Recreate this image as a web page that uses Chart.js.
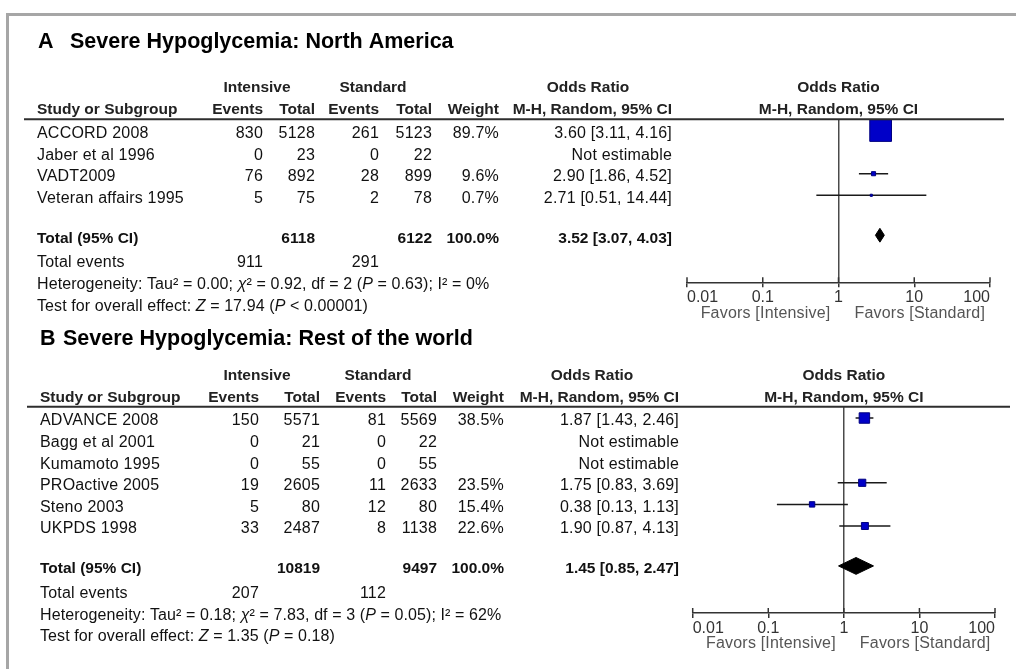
<!DOCTYPE html>
<html>
<head>
<meta charset="utf-8">
<script src="https://cdn.jsdelivr.net/npm/chart.js@4.4.1/dist/chart.umd.min.js"></script>
<style>
  html, body { margin: 0; padding: 0; background: #fff; }
  #page { position: relative; width: 1016px; height: 669px; overflow: hidden; background: #fff; }
  #frame { position: absolute; left: 6px; top: 13px; right: -10px; bottom: -10px;
           border-top: 3px solid #a6a6a6; border-left: 3px solid #a6a6a6; }
  canvas { position: absolute; left: 0; top: 0; }
</style>
</head>
<body>
<div id="page">
  <div id="frame"></div>
  <canvas id="chartA" width="1016" height="669"></canvas>
  <canvas id="chartB" width="1016" height="669"></canvas>
</div>
<script>
// ---------- A: North America ----------
const studiesA   = ['ACCORD 2008', 'Jaber et al 1996', 'VADT2009', 'Veteran affairs 1995'];
const intEventsA = [830, 0, 76, 5];
const intTotalA  = [5128, 23, 892, 75];
const stdEventsA = [261, 0, 28, 2];
const stdTotalA  = [5123, 22, 899, 78];
const weightA    = [89.7, null, 9.6, 0.7];
const orA        = [3.60, null, 2.90, 2.71];
const loA        = [3.11, null, 1.86, 0.51];
const hiA        = [4.16, null, 4.52, 14.44];
const totalCiA   = [3.52, 3.07, 4.03];   // pooled OR, lower, upper
const hetA  = [['Heterogeneity: Tau² = 0.00; ', 0], ['χ', 1], ['² = 0.92, df = 2 (', 0], ['P', 1], [' = 0.63); I² = 0%', 0]];
const testA = [['Test for overall effect: ', 0], ['Z', 1], [' = 17.94 (', 0], ['P', 1], [' < 0.00001)', 0]];

// ---------- B: Rest of the world ----------
const studiesB   = ['ADVANCE 2008', 'Bagg et al 2001', 'Kumamoto 1995', 'PROactive 2005', 'Steno 2003', 'UKPDS 1998'];
const intEventsB = [150, 0, 0, 19, 5, 33];
const intTotalB  = [5571, 21, 55, 2605, 80, 2487];
const stdEventsB = [81, 0, 0, 11, 12, 8];
const stdTotalB  = [5569, 22, 55, 2633, 80, 1138];
const weightB    = [38.5, null, null, 23.5, 15.4, 22.6];
const orB        = [1.87, null, null, 1.75, 0.38, 1.90];
const loB        = [1.43, null, null, 0.83, 0.13, 0.87];
const hiB        = [2.46, null, null, 3.69, 1.13, 4.13];
const totalCiB   = [1.45, 0.85, 2.47];
const hetB  = [['Heterogeneity: Tau² = 0.18; ', 0], ['χ', 1], ['² = 7.83, df = 3 (', 0], ['P', 1], [' = 0.05); I² = 62%', 0]];
const testB = [['Test for overall effect: ', 0], ['Z', 1], [' = 1.35 (', 0], ['P', 1], [' = 0.18)', 0]];

// ---------- shared labels ----------
const tickValues = [0.01, 0.1, 1, 10, 100];
const tickLabels = ['0.01', '0.1', '1', '10', '100'];
const groupLabels = ['Intensive', 'Standard'];
const colLabels = ['Events', 'Total', 'Events', 'Total', 'Weight', 'M-H, Random, 95% CI'];
const favorLabels = ['Favors [Intensive]', 'Favors [Standard]'];

const FAMILY = '"Liberation Sans", Arial, Helvetica, sans-serif';
const fBody  = '16px ' + FAMILY;
const fItal  = 'italic 16px ' + FAMILY;
const fBold  = 'bold 15.5px ' + FAMILY;
const fTitle = 'bold 21.5px ' + FAMILY;
const AXIS_H = 40;
const W = 1016, H = 669;

function put(ctx, s, x, y, align, font, color, spacing) {
  ctx.font = font;
  ctx.textAlign = align;
  ctx.textBaseline = 'middle';
  ctx.fillStyle = color || '#111';
  ctx.letterSpacing = spacing || '0px';
  ctx.fillText(String(s), x, y);
}
function putRich(ctx, parts, x, y) {
  ctx.textAlign = 'left';
  ctx.textBaseline = 'middle';
  ctx.fillStyle = '#111';
  ctx.letterSpacing = '0.1px';
  for (const [s, it] of parts) {
    ctx.font = it ? fItal : fBody;
    ctx.fillText(s, x, y);
    x += ctx.measureText(s).width;
  }
}
const orText = (m, l, h) => m == null ? 'Not estimable' : `${m.toFixed(2)} [${l.toFixed(2)}, ${h.toFixed(2)}]`;
const sum = a => a.reduce((s, v) => s + (v || 0), 0);

// Draws the study table, headers, rule, axis captions and upper tick halves
const forestTable = {
  id: 'forestTable',
  afterDraw(chart, args, o) {
    const { ctx, chartArea: ca } = chart;
    const xs = chart.scales.x, ys = chart.scales.y;
    const d = o.data, L = o.layout;
    const n = d.studies.length;
    const ty = r => ys.getPixelForValue(r) + L.textDy;
    const c = L.cols;
    const x1 = xs.getPixelForValue(1);
    ctx.save();

    put(ctx, d.panel, L.titleX[0], L.titleY, 'left', fTitle, '#000');
    put(ctx, d.title, L.titleX[1], L.titleY, 'left', fTitle, '#000');

    const h1 = ty(-2.1), h2 = ty(-1.1);
    put(ctx, groupLabels[0], L.groupX[0], h1, 'center', fBold, '#222');
    put(ctx, groupLabels[1], L.groupX[1], h1, 'center', fBold, '#222');
    put(ctx, 'Odds Ratio', L.orHeadX, h1, 'center', fBold, '#222');
    put(ctx, 'Odds Ratio', x1, h1, 'center', fBold, '#222');
    put(ctx, 'Study or Subgroup', L.nameX, h2, 'left', fBold, '#222');
    colLabels.forEach((s, j) => put(ctx, s, c[j], h2, 'right', fBold, '#222'));
    put(ctx, colLabels[5], x1, h2, 'center', fBold, '#222');

    ctx.strokeStyle = '#2e2e2e';
    ctx.lineWidth = 2;
    ctx.beginPath();
    ctx.moveTo(L.ruleX[0], ca.top);
    ctx.lineTo(L.ruleX[1], ca.top);
    ctx.stroke();

    for (let i = 0; i < n; i++) {
      const y = ty(i);
      put(ctx, d.studies[i], L.nameX, y, 'left', fBody, '#111', '0.2px');
      const vals = [d.intEvents[i], d.intTotal[i], d.stdEvents[i], d.stdTotal[i],
                    d.weight[i] == null ? '' : d.weight[i].toFixed(1) + '%',
                    orText(d.or[i], d.lo[i], d.hi[i])];
      vals.forEach((v, j) => put(ctx, v, c[j], y, 'right', fBody, '#111', '0.2px'));
    }

    const yt = ty(n + L.totalGap);
    put(ctx, 'Total (95% CI)', L.nameX, yt, 'left', fBold, '#111');
    put(ctx, sum(d.intTotal), c[1], yt, 'right', fBold, '#111');
    put(ctx, sum(d.stdTotal), c[3], yt, 'right', fBold, '#111');
    put(ctx, sum(d.weight).toFixed(1) + '%', c[4], yt, 'right', fBold, '#111');
    put(ctx, orText(d.total[0], d.total[1], d.total[2]), c[5], yt, 'right', fBold, '#111');

    const ye = ty(n + 2);
    put(ctx, 'Total events', L.nameX, ye, 'left', fBody, '#111', '0.2px');
    put(ctx, sum(d.intEvents), c[0], ye, 'right', fBody, '#111', '0.2px');
    put(ctx, sum(d.stdEvents), c[2], ye, 'right', fBody, '#111', '0.2px');
    putRich(ctx, d.het, L.nameX, ty(n + 3));
    putRich(ctx, d.test, L.nameX, ty(n + 4));

    // upper halves of the axis tick marks
    ctx.strokeStyle = '#333';
    ctx.lineWidth = 1.5;
    for (const t of xs.ticks) {
      const px = xs.getPixelForValue(t.value);
      ctx.beginPath();
      ctx.moveTo(px, ca.bottom - 5);
      ctx.lineTo(px, ca.bottom);
      ctx.stroke();
    }

    const yf = ca.bottom + 31;
    put(ctx, favorLabels[0], x1 - 8, yf, 'right', fBody, '#555', '0.2px');
    put(ctx, favorLabels[1], x1 + 16, yf, 'left', fBody, '#555', '0.2px');
    ctx.restore();
  }
};

function makeChart(id, d, L) {
  const n = d.studies.length;
  const rows = d.studies.map((_, i) => i);
  const whisker = [];
  rows.forEach(i => {
    if (d.or[i] != null) whisker.push({ x: d.lo[i], y: i }, { x: d.hi[i], y: i }, { x: d.hi[i], y: null });
  });
  const boxes = rows.filter(i => d.or[i] != null).map(i => ({ x: d.or[i], y: i, w: d.weight[i] }));
  const tr = n + L.totalGap;
  const upper = [{ x: d.total[1], y: tr }, { x: d.total[0], y: tr - L.diamondH }, { x: d.total[2], y: tr }];
  const lower = [{ x: d.total[1], y: tr }, { x: d.total[0], y: tr + L.diamondH }, { x: d.total[2], y: tr }];

  return new Chart(document.getElementById(id), {
    type: 'scatter',
    data: {
      datasets: [
        { data: boxes, pointStyle: 'rect',
          pointRadius: c => c.raw ? (L.boxMin + L.boxScale * c.raw.w) / Math.SQRT2 : 3,
          backgroundColor: '#0000c8', borderColor: '#000080', borderWidth: 1, clip: false },
        { type: 'line', data: whisker, borderColor: '#1a1a1a', borderWidth: 1.5,
          pointRadius: 0, spanGaps: false, fill: false, clip: false },
        { type: 'line', data: upper, borderColor: '#000', backgroundColor: '#000', borderWidth: 1,
          pointRadius: 0, fill: '+1', clip: false },
        { type: 'line', data: lower, borderColor: '#000', backgroundColor: '#000', borderWidth: 1,
          pointRadius: 0, fill: false, clip: false }
      ]
    },
    options: {
      responsive: false,
      animation: false,
      devicePixelRatio: 1,
      layout: { padding: { left: L.plot[0], right: W - L.plot[1], top: L.area[0], bottom: H - L.area[1] - AXIS_H } },
      plugins: {
        legend: { display: false },
        tooltip: { enabled: false },
        forestTable: { data: d, layout: L }
      },
      scales: {
        x: {
          type: 'logarithmic', min: 0.01, max: 100,
          afterBuildTicks: s => { s.ticks = tickValues.map(v => ({ value: v })); },
          afterFit: s => { s.height = AXIS_H; },
          ticks: { callback: (v, i) => tickLabels[i], align: 'inner', autoSkip: false, maxRotation: 0,
                   font: { family: FAMILY, size: 16 }, color: '#333', padding: 1 },
          grid: { drawOnChartArea: true,
                  color: c => (c.tick && c.tick.value === 1) ? '#4a4a4a' : 'rgba(0,0,0,0)',
                  lineWidth: 1.5, tickColor: '#333', tickWidth: 1.5, tickLength: 5 },
          border: { display: true, color: '#333', width: 1.5 }
        },
        y: { type: 'linear', display: false, reverse: true, min: -L.headGap, max: n + L.axisRow }
      }
    },
    plugins: [forestTable]
  });
}

makeChart('chartA', {
  panel: 'A', title: 'Severe Hypoglycemia: North America',
  studies: studiesA, intEvents: intEventsA, intTotal: intTotalA, stdEvents: stdEventsA, stdTotal: stdTotalA,
  weight: weightA, or: orA, lo: loA, hi: hiA, total: totalCiA, het: hetA, test: testA
}, {
  plot: [687, 990], area: [119.3, 282.3], headGap: 0.52, axisRow: 3.03, totalGap: 0.85, textDy: 3,
  titleX: [38, 70], titleY: 42, nameX: 37, cols: [263, 315, 379, 432, 499, 672],
  groupX: [257, 373], orHeadX: 588, ruleX: [24, 1004], boxMin: 2, boxScale: 0.22, diamondH: 0.32
});

makeChart('chartB', {
  panel: 'B', title: 'Severe Hypoglycemia: Rest of the world',
  studies: studiesB, intEvents: intEventsB, intTotal: intTotalB, stdEvents: stdEventsB, stdTotal: stdTotalB,
  weight: weightB, or: orB, lo: loB, hi: hiB, total: totalCiB, het: hetB, test: testB
}, {
  plot: [692.7, 995], area: [406.8, 613], headGap: 0.52, axisRow: 3.03, totalGap: 0.85, textDy: 3,
  titleX: [40, 63], titleY: 339, nameX: 40, cols: [259, 320, 386, 437, 504, 679],
  groupX: [257, 378], orHeadX: 592, ruleX: [27, 1010], boxMin: 2, boxScale: 0.22, diamondH: 0.39
});
</script>
</body>
</html>
